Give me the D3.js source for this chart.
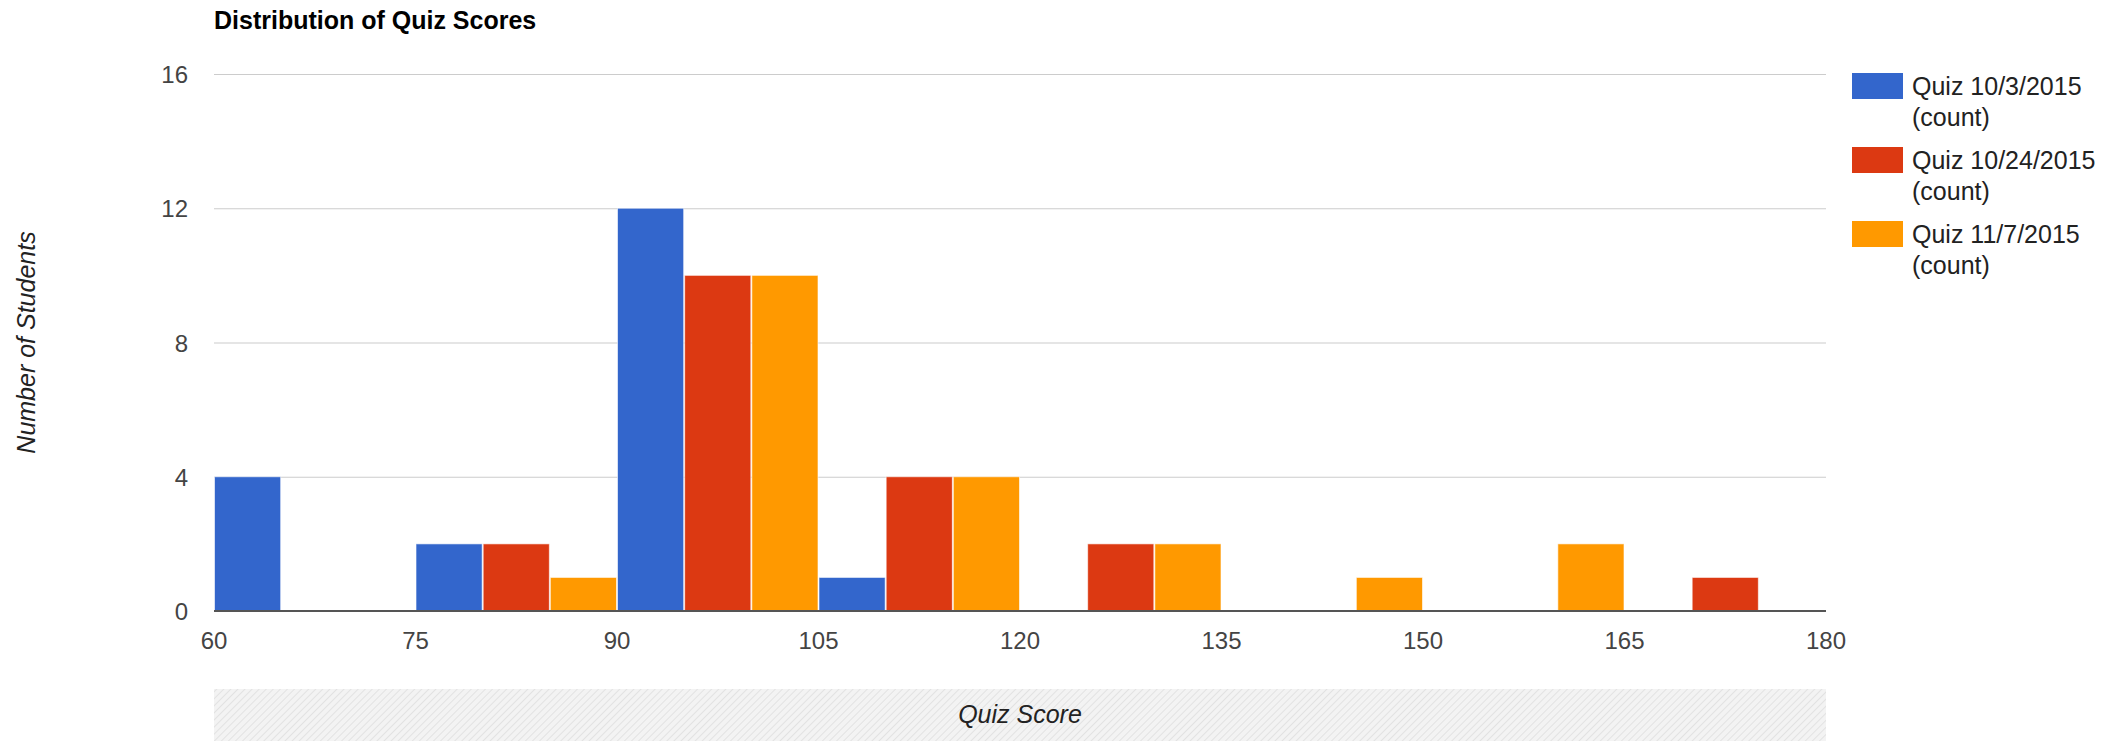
<!DOCTYPE html>
<meta charset="utf-8">
<style>
body { margin:0; background:#fff; }
text { font-family: Arial, "Liberation Sans", sans-serif; }
</style>
<script src="https://d3js.org/d3.v7.min.js"></script>
<body>
  <svg id="chart"></svg>
</body>

<script>
// bins are 5 wide, keyed by their left edge
var binWidth = 5;
var seriesNames = ['Quiz 10/3/2015', 'Quiz 10/24/2015', 'Quiz 11/7/2015'];
var seriesColours = ['#3366cc', '#dc3912', '#ff9900'];

var quiz1Bins   = [60, 75, 90, 105];
var quiz1Counts = [4, 2, 12, 1];

var quiz2Bins   = [80, 95, 110, 125, 170];
var quiz2Counts = [2, 10, 4, 2, 1];

var quiz3Bins   = [85, 100, 115, 130, 145, 160];
var quiz3Counts = [1, 10, 4, 2, 1, 2];

var xTicks = [60, 75, 90, 105, 120, 135, 150, 165, 180];
var yTicks = [0, 4, 8, 12, 16];

var title = 'Distribution of Quiz Scores';
var xTitle = 'Quiz Score';
var yTitle = 'Number of Students';

var width = 2119, height = 741;
// plot area (note: "top" is taken by window.top)
var pLeft = 214, pRight = 1826, pTop = 74, pBottom = 611;

var svg = d3.select('#chart').attr('width', width).attr('height', height);

var x = d3.scaleLinear().domain([60, 180]).range([pLeft, pRight]);
var y = d3.scaleLinear().domain([0, 16]).range([pBottom, pTop]);

// hatch for the x-title strip
var defs = svg.append('defs');
var pat = defs.append('pattern')
  .attr('id', 'hatch')
  .attr('patternUnits', 'userSpaceOnUse')
  .attr('width', 5).attr('height', 5)
  .attr('patternTransform', 'rotate(45)');
pat.append('rect').attr('width', 5).attr('height', 5).attr('fill', '#f3f3f3');
pat.append('line').attr('x1', 0).attr('y1', 0).attr('x2', 0).attr('y2', 5)
  .attr('stroke', '#e2e2e2').attr('stroke-width', 2);

svg.append('rect')
  .attr('x', pLeft).attr('y', 689)
  .attr('width', pRight - pLeft).attr('height', 60)
  .attr('fill', 'url(#hatch)');

// title
svg.append('text')
  .attr('x', pLeft).attr('y', 29)
  .style('font-size', '25px').style('font-weight', 'bold')
  .attr('fill', '#000')
  .text(title);

// gridlines
svg.append('g').selectAll('line')
  .data(yTicks.filter(d => d > 0))
  .enter().append('line')
  .attr('x1', pLeft).attr('x2', pRight)
  .attr('y1', d => y(d) + 0.5).attr('y2', d => y(d) + 0.5)
  .attr('stroke', '#cccccc').attr('stroke-width', 1.2);

// y tick labels
svg.append('g').selectAll('text')
  .data(yTicks)
  .enter().append('text')
  .attr('x', 188).attr('y', d => y(d) + 9)
  .attr('text-anchor', 'end')
  .style('font-size', '24px')
  .attr('fill', '#444')
  .text(d => d);

// x tick labels
svg.append('g').selectAll('text')
  .data(xTicks)
  .enter().append('text')
  .attr('x', d => x(d)).attr('y', 649)
  .attr('text-anchor', 'middle')
  .style('font-size', '24px')
  .attr('fill', '#444')
  .text(d => d);

// bars
var series = [
  {bins: quiz1Bins, counts: quiz1Counts},
  {bins: quiz2Bins, counts: quiz2Counts},
  {bins: quiz3Bins, counts: quiz3Counts}
];

series.forEach((s, i) => {
  svg.append('g').selectAll('rect')
    .data(s.bins.map((b, j) => ({b: b, c: s.counts[j]})))
    .enter().append('rect')
    .attr('x', d => x(d.b) + 0.5)
    .attr('y', d => y(d.c))
    .attr('width', d => x(d.b + binWidth) - x(d.b) - 1)
    .attr('height', d => y(0) - y(d.c))
    .attr('fill', seriesColours[i])
    .attr('stroke', '#fff').attr('stroke-opacity', 0.6).attr('stroke-width', 1);
});

// baseline
svg.append('line')
  .attr('x1', pLeft).attr('x2', pRight)
  .attr('y1', pBottom).attr('y2', pBottom)
  .attr('stroke', '#555').attr('stroke-width', 2);

// axis titles
svg.append('text')
  .attr('x', (pLeft + pRight) / 2).attr('y', 723)
  .attr('text-anchor', 'middle')
  .style('font-size', '25px').style('font-style', 'italic')
  .attr('fill', '#222')
  .text(xTitle);

svg.append('text')
  .attr('transform', 'translate(35,' + ((pTop + pBottom) / 2) + ') rotate(-90)')
  .attr('text-anchor', 'middle')
  .style('font-size', '25px').style('font-style', 'italic')
  .attr('fill', '#222')
  .text(yTitle);

// legend
var lg = svg.append('g').selectAll('g')
  .data(seriesNames)
  .enter().append('g')
  .attr('transform', (d, i) => 'translate(1852,' + (73 + i * 74) + ')');

lg.append('rect')
  .attr('width', 51).attr('height', 26)
  .attr('fill', (d, i) => seriesColours[i]);

lg.append('text')
  .attr('x', 60).attr('y', 22)
  .style('font-size', '25px')
  .attr('fill', '#222')
  .text(d => d);

lg.append('text')
  .attr('x', 60).attr('y', 53)
  .style('font-size', '25px')
  .attr('fill', '#222')
  .text('(count)');
</script>
